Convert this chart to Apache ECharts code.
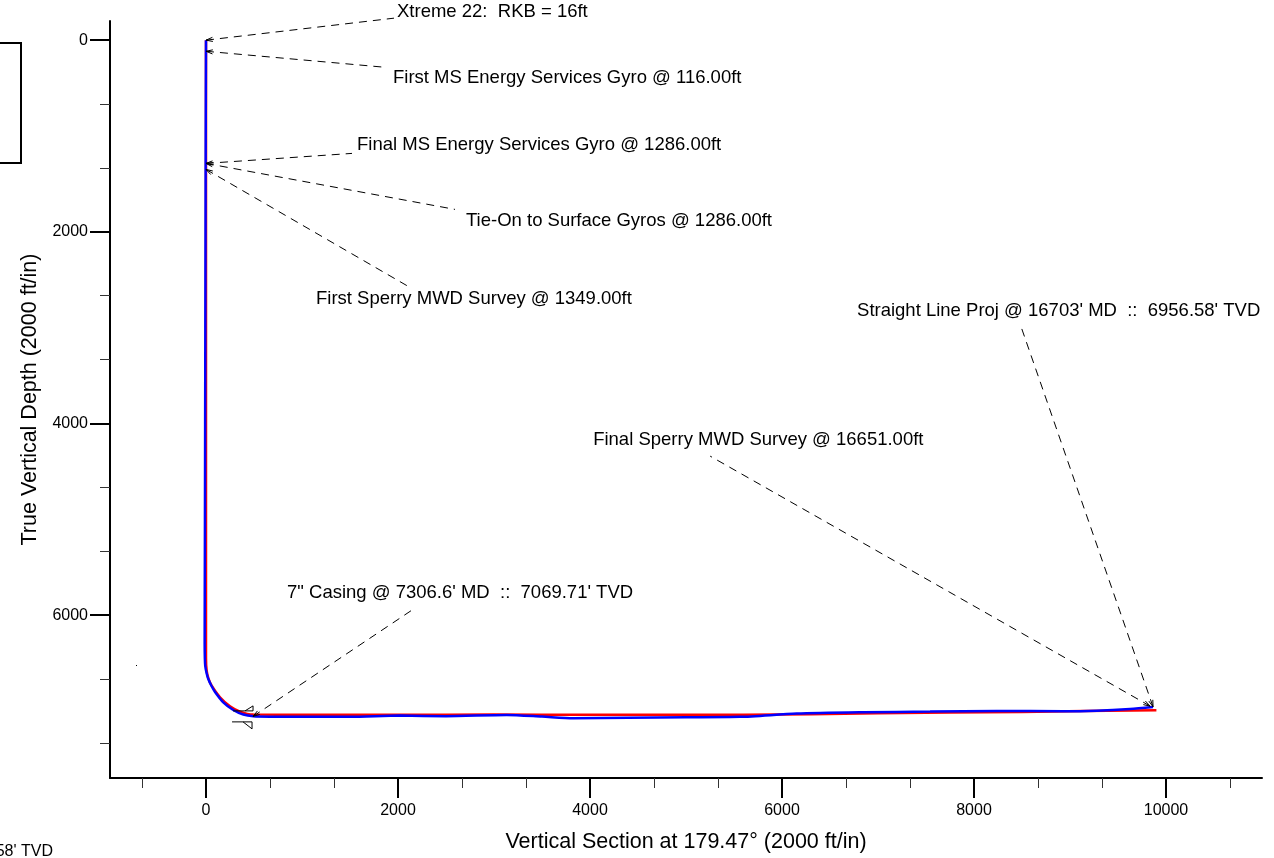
<!DOCTYPE html>
<html><head><meta charset="utf-8">
<script src="https://cdn.jsdelivr.net/npm/echarts@6/dist/echarts.min.js"></script>
<style>html,body{margin:0;padding:0;background:#fff}#c{width:1274px;height:858px}</style>
</head><body><div id="c"></div>
<script>
// ---- data ----
const planVS  = [0, 0, 0, 0, 7, 25, 59, 146, 250, 354, 493, 1000, 2000, 3000, 4000, 5600, 7000, 8500, 9900];
const planTVD = [0, 3000, 6000, 6450, 6580, 6660, 6736, 6857, 6951, 7007, 7038, 7040, 7040, 7038, 7040, 7040, 7025, 7010, 6992];
const actualVS  = [0, -3, -5, -7, -9, -11, -13, -14, -12, -8, 5, 24, 55, 94, 180, 284, 389, 493, 700, 979, 1500, 2021, 2500, 3132, 3500, 3826, 4400, 5000, 5562, 6153, 6847, 7542, 8236, 8931, 9278, 9625, 9865];
const actualTVD = [0, 1000, 2000, 3000, 4000, 5000, 5800, 6300, 6450, 6531, 6600, 6667, 6735, 6802, 6910, 6990, 7038, 7055, 7060, 7062, 7062, 7049, 7055, 7042, 7059, 7076, 7070, 7066, 7062, 7028, 7014, 7007, 7000, 7003, 6997, 6979, 6958];
const xMajorTicks = [0, 2000, 4000, 6000, 8000, 10000];
const yMajorTicks = [0, 2000, 4000, 6000];
const annoText = [
  'Xtreme 22:  RKB = 16ft',
  'First MS Energy Services Gyro @ 116.00ft',
  'Final MS Energy Services Gyro @ 1286.00ft',
  'Tie-On to Surface Gyros @ 1286.00ft',
  'First Sperry MWD Survey @ 1349.00ft',
  "Straight Line Proj @ 16703' MD  ::  6956.58' TVD",
  'Final Sperry MWD Survey @ 16651.00ft',
  '7" Casing @ 7306.6\' MD  ::  7069.71\' TVD'
];
const annoVS  = [0, 0, 0, 0, 0, 9865, 9835, 490];
const annoTVD = [0, 116, 1286, 1286, 1349, 6957, 6950, 7057];
const casingVS = [490];
const casingTVD = [7057];
const xAxisName = 'Vertical Section at 179.47° (2000 ft/in)';
const yAxisName = 'True Vertical Depth (2000 ft/in)';
const cutText = "Straight Line Proj @ 16703' MD  ::  6956.58' TVD";

// ---- layout (pixel offsets of leader-line end and text from anchor) ----
const annoLayout = [
  {lx: 188, ly: -22, tx: 191, ty: -28},
  {lx: 179, ly: 16, tx: 187, ty: 27},
  {lx: 146, ly: -10, tx: 151, ty: -18},
  {lx: 249, ly: 46, tx: 260, ty: 58},
  {lx: 204, ly: 118, tx: 110, ty: 129},
  {lx: -133, ly: -383, tx: -296, ty: -396},
  {lx: -440, ly: -250, tx: -557, ty: -266},
  {lx: 160, ly: -107, tx: 34, ty: -123}
];
const FONT = 'Liberation Sans, Arial, sans-serif';
const ANNO_FONT = '18.5px ' + FONT;

function range(a, b, step) { const r = []; for (let v = a; v <= b + 1e-6; v += step) r.push(v); return r; }
const isMajor = v => Math.abs(v / 2000 - Math.round(v / 2000)) < 1e-6;
const xMinorTicks = range(-2000 / 3, 11000, 2000 / 3).filter(v => !isMajor(v));
const yMinorTicks = range(2000 / 3, 7700, 2000 / 3).filter(v => !isMajor(v));

const zip = (a, b) => a.map((v, i) => [v, b[i]]);

const chart = echarts.init(document.getElementById('c'), null, {renderer: 'canvas'});

const axisCommon = {type: 'value', splitLine: {show: false}};
const plain = v => String(Math.round(v));

chart.setOption({
  animation: false,
  backgroundColor: '#fff',
  grid: {left: 110, right: 12, top: 21, bottom: 79},
  xAxis: [
    Object.assign({}, axisCommon, {
      min: -1000, max: 11000, position: 'bottom',
      name: xAxisName, nameLocation: 'middle', nameGap: 53,
      nameTextStyle: {fontFamily: FONT, fontSize: 21.5, color: '#000'},
      axisLine: {show: true, onZero: false, lineStyle: {color: '#000', width: 2}},
      axisTick: {show: true, customValues: xMajorTicks, length: 20, lineStyle: {color: '#000', width: 2}},
      axisLabel: {show: true, customValues: xMajorTicks, formatter: plain, margin: 25, fontFamily: FONT, fontSize: 16, color: '#000'}
    }),
    Object.assign({}, axisCommon, {
      min: -1000, max: 11000, position: 'bottom', offset: 0,
      axisLine: {show: false, onZero: false},
      axisTick: {show: true, customValues: xMinorTicks, length: 10, lineStyle: {color: '#333', width: 1}},
      axisLabel: {show: false}
    })
  ],
  yAxis: [
    Object.assign({}, axisCommon, {
      min: -200, max: 7700, inverse: true, position: 'left',
      name: yAxisName, nameLocation: 'middle', nameGap: 69, nameRotate: 90,
      nameTextStyle: {fontFamily: FONT, fontSize: 21.5, color: '#000'},
      axisLine: {show: true, onZero: false, lineStyle: {color: '#000', width: 2}},
      axisTick: {show: true, customValues: yMajorTicks, length: 20, lineStyle: {color: '#000', width: 2}},
      axisLabel: {show: true, customValues: yMajorTicks, formatter: plain, margin: 22, fontFamily: FONT, fontSize: 16, color: '#000'}
    }),
    Object.assign({}, axisCommon, {
      min: -200, max: 7700, inverse: true, position: 'left', offset: 0,
      axisLine: {show: false, onZero: false},
      axisTick: {show: true, customValues: yMinorTicks, length: 10, lineStyle: {color: '#333', width: 1}},
      axisLabel: {show: false}
    })
  ],
  series: [
    {
      type: 'line', name: 'Plan', data: zip(planVS, planTVD), showSymbol: false, smooth: 0.25,
      lineStyle: {color: '#ff0000', width: 2.5}, z: 3, silent: true
    },
    {
      type: 'line', name: 'Actual', data: zip(actualVS, actualTVD), showSymbol: false, smooth: 0.25,
      lineStyle: {color: '#0000ff', width: 2.5}, z: 4, silent: true
    },
    {
      type: 'custom', name: 'casing', clip: false, silent: true, z: 5,
      data: zip(casingVS, casingTVD),
      encode: {x: 0, y: 1},
      renderItem: function (params, api) {
        const p = api.coord([api.value(0), api.value(1)]);
        const st = {stroke: '#000', lineWidth: 1, fill: null};
        const poly = pts => ({type: 'polyline', shape: {points: pts.map(q => [p[0] + q[0], p[1] + q[1]])}, style: st});
        return {type: 'group', children: [
          poly([[-20, -5.5], [0, -5.5]]),
          poly([[-8, -5.5], [0, -10.5], [0, -5.5]]),
          poly([[-21, 5.5], [-1, 5.5]]),
          poly([[-10, 5.5], [-1, 12.5], [-1, 5.5]])
        ]};
      }
    },
    {
      type: 'custom', name: 'annotations', clip: false, silent: true, z: 6,
      data: zip(annoVS, annoTVD),
      encode: {x: 0, y: 1},
      renderItem: function (params, api) {
        const i = params.dataIndex;
        const L = annoLayout[i];
        const p = api.coord([api.value(0), api.value(1)]);
        const ex = p[0] + L.lx, ey = p[1] + L.ly;
        const ang = Math.atan2(ey - p[1], ex - p[0]);
        const ah = 7, aw = 0.3;
        const a1 = [p[0] + ah * Math.cos(ang + aw), p[1] + ah * Math.sin(ang + aw)];
        const a2 = [p[0] + ah * Math.cos(ang - aw), p[1] + ah * Math.sin(ang - aw)];
        return {type: 'group', children: [
          {type: 'line', shape: {x1: p[0], y1: p[1], x2: ex, y2: ey},
           style: {stroke: '#000', lineWidth: 1, lineDash: [8, 6]}},
          {type: 'polyline', shape: {points: [a1, p, a2]}, style: {stroke: '#000', lineWidth: 1, fill: null}},
          {type: 'text', x: p[0] + L.tx, y: p[1] + L.ty,
           style: {text: annoText[i], fill: '#000', font: ANNO_FONT, textAlign: 'left', textVerticalAlign: 'middle'}}
        ]};
      }
    }
  ],
  graphic: [
    {type: 'rect', shape: {x: -10, y: 43, width: 31, height: 120}, style: {stroke: '#000', lineWidth: 2, fill: null}},
    {type: 'rect', shape: {x: 136, y: 665, width: 1, height: 1}, style: {fill: '#000'}},
    {type: 'text', x: 53, y: 852, style: {text: cutText, fill: '#000', font: '16px ' + FONT, textAlign: 'right', textVerticalAlign: 'middle'}}
  ]
});
</script>
</body></html>
